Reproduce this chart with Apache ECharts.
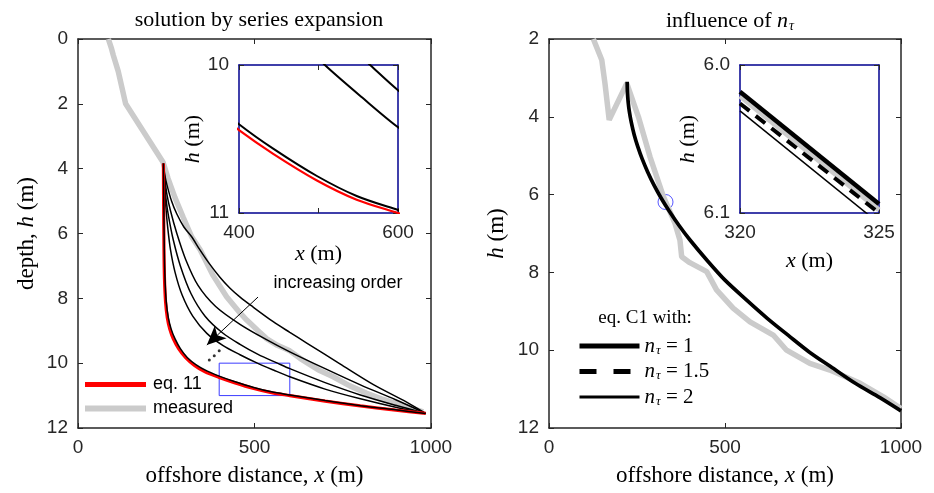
<!DOCTYPE html>
<html>
<head>
  <meta charset="utf-8">
  <title>profile</title>
  <script src="https://cdn.jsdelivr.net/npm/echarts@6/dist/echarts.min.js"></script>
  <style>
    html, body { margin: 0; padding: 0; background: #fff; }
    #main { width: 934px; height: 493px; }
  </style>
</head>
<body>
<div id="main"></div>
<script>
// 左图：级数展开解
var measL_x = [86, 95, 100, 114, 135, 241, 255, 275, 298, 322, 346, 383, 421, 459, 478, 510, 535, 565, 600, 629, 680, 723, 770, 818, 865, 912, 978];
var measL_h = [0, 0.3, 0.5, 1.0, 2.0, 3.8, 4.3, 4.9, 5.5, 6.1, 6.5, 7.3, 7.95, 8.45, 8.67, 9.0, 9.25, 9.45, 9.62, 9.85, 10.2, 10.42, 10.7, 10.93, 11.12, 11.29, 11.5];

var ord1_x = [242, 246, 252, 265, 280, 300, 322, 345, 370, 402, 430, 460, 490, 553, 600, 648, 742, 837, 931, 985];
var ord1_h = [3.84, 4.2, 4.5, 5.0, 5.4, 5.8, 6.1, 6.5, 6.9, 7.35, 7.68, 7.97, 8.22, 8.72, 9.05, 9.38, 10.02, 10.66, 11.2, 11.55];
var ord2_x = [242, 246, 252, 262, 280, 305, 340, 390, 459, 530, 600, 700, 800, 900, 985];
var ord2_h = [3.84, 4.3, 4.8, 5.3, 6.0, 6.8, 7.6, 8.25, 8.8, 9.25, 9.65, 10.17, 10.67, 11.13, 11.55];
var ord3_x = [242, 245, 250, 257, 270, 290, 320, 360, 410, 459, 510, 565, 600, 700, 800, 900, 985];
var ord3_h = [3.84, 4.4, 5.0, 5.5, 6.2, 7.0, 7.85, 8.55, 9.07, 9.42, 9.73, 10.0, 10.17, 10.6, 10.98, 11.3, 11.55];
var ord4_x = [242, 245, 249, 254, 262, 275, 295, 325, 365, 410, 459, 508, 555, 600, 700, 800, 900, 985];
var ord4_h = [3.84, 4.5, 5.2, 5.8, 6.5, 7.2, 7.9, 8.55, 9.08, 9.45, 9.74, 10.0, 10.22, 10.42, 10.8, 11.1, 11.36, 11.55];
var ordN_x = [242, 243, 244.5, 246.5, 250, 256, 264, 275, 290, 310, 335, 365, 400, 443, 498, 548, 600, 700, 800, 900, 985];
var ordN_h = [3.84, 5.0, 6.5, 7.4, 8.1, 8.6, 8.95, 9.25, 9.55, 9.83, 10.05, 10.24, 10.40, 10.565, 10.75, 10.885, 10.98, 11.155, 11.31, 11.44, 11.55];
var eq11_x = [242, 242.5, 243.5, 245, 248, 253, 260, 270, 285, 305, 330, 360, 400, 443, 498, 548, 600, 700, 800, 900, 985];
var eq11_h = [3.84, 5.0, 6.5, 7.4, 8.1, 8.6, 8.95, 9.25, 9.55, 9.83, 10.07, 10.27, 10.44, 10.6, 10.78, 10.91, 11.0, 11.17, 11.32, 11.45, 11.55];

// 箭头和省略号（数据坐标）
var arrowFrom = [510, 7.96], arrowTo = [365, 9.44];
var dots_x = [372, 386, 400];
var dots_h = [9.9, 9.77, 9.62];
var zoomBoxL = [[400, 10], [600, 11]];

// 右图：n_tau 的影响
var measR_x = [126, 150, 159, 171, 221, 254, 287, 325, 358, 372, 377, 400, 448, 476, 523, 571, 637, 675, 741, 798, 884, 950, 1000];
var measR_h = [2.0, 2.54, 3.14, 4.08, 3.14, 4.0, 5.03, 6.05, 6.74, 7.17, 7.6, 7.75, 7.98, 8.45, 8.92, 9.27, 9.61, 10.0, 10.34, 10.51, 10.85, 11.2, 11.5];
var c1_x = [222, 223, 225, 228, 234, 242, 252, 265, 280, 298, 318, 340, 370, 400, 450, 500, 560, 620, 680, 740, 800, 870, 940, 1000];
var c1_h = [3.1, 3.4, 3.63, 3.85, 4.15, 4.46, 4.76, 5.09, 5.41, 5.75, 6.08, 6.4, 6.8, 7.16, 7.7, 8.2, 8.7, 9.18, 9.62, 10.05, 10.42, 10.85, 11.22, 11.56];
var circleR = [331, 6.19];

// 右侧插图
var insR_x = [320, 325];
var insN1_h = [6.018, 6.094];
var insN15_h = [6.026, 6.100];
var insN2_h = [6.031, 6.107];
var insMeas_h = [6.021, 6.098];
var nValues = ['1', '1.5', '2'];

var ink = '#262626';
var SANS = 'Liberation Sans, Arial, sans-serif';
var SERIF = 'Liberation Serif, Times New Roman, serif';
var grayC = '#cbcbcb';
var navy = '#00008f';

function pts(xs, hs) {
  return xs.map(function (x, i) { return [x, hs[i]]; });
}

function plain(v) { return String(v); }

function nameStyle(size) {
  return {
    fontFamily: SERIF, fontSize: size, color: '#000',
    rich: { i: { fontFamily: SERIF, fontSize: size, fontStyle: 'italic', color: '#000' } }
  };
}

// 每个坐标系：底部+顶部 x 轴，左+右 y 轴
function xPair(gi, min, max, step, lineColor, fmt, name, gap, nsize) {
  var common = {
    gridIndex: gi, type: 'value', min: min, max: max, interval: step,
    splitLine: { show: false },
    axisLine: { show: true, onZero: false, lineStyle: { color: lineColor, width: 1.5 } },
    axisTick: { show: true, inside: true, length: 5, lineStyle: { color: ink, width: 1 } }
  };
  var b = Object.assign({}, common, {
    position: 'bottom',
    axisLabel: { show: true, margin: 10, color: ink, fontFamily: SANS, fontSize: 19, formatter: fmt || plain },
    name: name, nameLocation: 'middle', nameGap: gap, nameTextStyle: nameStyle(nsize)
  });
  var t = Object.assign({}, common, { position: 'top', axisLabel: { show: false } });
  return [b, t];
}

function yPair(gi, min, max, step, lineColor, fmt, name, gap, nsize) {
  var common = {
    gridIndex: gi, type: 'value', min: min, max: max, interval: step, inverse: true,
    splitLine: { show: false },
    axisLine: { show: true, onZero: false, lineStyle: { color: lineColor, width: 1.5 } },
    axisTick: { show: true, inside: true, length: 5, lineStyle: { color: ink, width: 1 } }
  };
  var l = Object.assign({}, common, {
    position: 'left',
    axisLabel: { show: true, margin: 10, color: ink, fontFamily: SANS, fontSize: 19, formatter: fmt || plain },
    name: name, nameLocation: 'middle', nameGap: gap, nameTextStyle: nameStyle(nsize)
  });
  var r = Object.assign({}, common, { position: 'right', axisLabel: { show: false } });
  return [l, r];
}

function line(name, xi, data, color, width, extra) {
  return Object.assign({
    name: name, type: 'line', xAxisIndex: xi, yAxisIndex: xi, data: data,
    symbol: 'none', silent: true, animation: false,
    lineStyle: { color: color, width: width }, itemStyle: { color: color }
  }, extra || {});
}

var xs = [].concat(
  xPair(0, 0, 1000, 500, ink, null, 'offshore distance, {i|x} (m)', 36, 23),
  xPair(1, 400, 600, 100, navy, function (v) { return v === 500 ? '' : String(v); }, '{i|x} (m)', 9, 22),
  xPair(2, 0, 1000, 500, ink, null, 'offshore distance, {i|x} (m)', 36, 23),
  xPair(3, 320, 325, 5, navy, null, '{i|x} (m)', 37, 22)
);
var ys = [].concat(
  yPair(0, 0, 12, 2, ink, null, 'depth, {i|h} (m)', 40, 23),
  yPair(1, 10, 11, 1, navy, null, '{i|h} (m)', 7, 22),
  yPair(2, 2, 12, 2, ink, null, '{i|h} (m)', 41, 23),
  yPair(3, 6.0, 6.1, 0.1, navy, function (v) { return v.toFixed(1); }, '{i|h} (m)', 18, 22)
);

var blackW = 1.5;
var series = [
  // 左主图 (axis index 0)
  line('measured', 0, pts(measL_x, measL_h), grayC, 5.5),
  line('o1', 0, pts(ord1_x, ord1_h), '#000', blackW, {
    smooth: 0.3,
    markLine: {
      silent: true, symbol: ['none', 'arrow'], symbolSize: [13, 19],
      label: { show: false },
      lineStyle: { color: '#000', width: 1, type: 'solid' },
      data: [[{ coord: arrowFrom }, { coord: arrowTo }]]
    },
    markArea: {
      silent: true,
      itemStyle: { color: 'rgba(0,0,0,0)', borderColor: '#3c3cff', borderWidth: 1 },
      data: [[{ coord: zoomBoxL[0] }, { coord: zoomBoxL[1] }]]
    }
  }),
  line('o2', 0, pts(ord2_x, ord2_h), '#000', blackW, { smooth: 0.3 }),
  line('o3', 0, pts(ord3_x, ord3_h), '#000', blackW, { smooth: 0.3 }),
  line('o4', 0, pts(ord4_x, ord4_h), '#000', blackW, { smooth: 0.3 }),
  line('eq. 11', 0, pts(eq11_x, eq11_h), '#ff0000', 3.2, { smooth: 0.3 }),
  line('oN', 0, pts(ordN_x, ordN_h), '#000', blackW, { smooth: 0.3 }),
  {
    type: 'scatter', xAxisIndex: 0, yAxisIndex: 0, data: pts(dots_x, dots_h),
    symbolSize: 3, itemStyle: { color: '#000' }, silent: true, animation: false
  },
  // 左插图 (axis index 2)
  line('o1', 2, pts(ord1_x, ord1_h), '#000', 2, { smooth: 0.3 }),
  line('o2', 2, pts(ord2_x, ord2_h), '#000', 2, { smooth: 0.3 }),
  line('o3', 2, pts(ord3_x, ord3_h), '#000', 2, { smooth: 0.3 }),
  line('o4', 2, pts(ord4_x, ord4_h), '#000', 2, { smooth: 0.3 }),
  line('eq. 11', 2, pts(eq11_x, eq11_h), '#ff0000', 2.2, { smooth: 0.3 }),
  line('oN', 2, pts(ordN_x, ordN_h), '#000', 2, { smooth: 0.3 }),
  // 右主图 (axis index 4)
  line('measured', 4, pts(measR_x, measR_h), grayC, 5.5),
  line('n1', 4, pts(c1_x, c1_h), '#000', 3.7, { smooth: 0.3 }),
  {
    type: 'scatter', xAxisIndex: 4, yAxisIndex: 4, data: [circleR],
    symbol: 'circle', symbolSize: 15, silent: true, animation: false,
    itemStyle: { color: 'rgba(0,0,0,0)', borderColor: '#2d2dff', borderWidth: 1 }
  },
  // 右插图 (axis index 6)
  line('measured', 6, pts(insR_x, insMeas_h), grayC, 5),
  line('n1', 6, pts(insR_x, insN1_h), '#000', 4.5),
  line('n1.5', 6, pts(insR_x, insN15_h), '#000', 4, { lineStyle: { color: '#000', width: 4, type: [12, 8] } }),
  line('n2', 6, pts(insR_x, insN2_h), '#000', 1.5)
];

var chart = echarts.init(document.getElementById('main'), null, { renderer: 'canvas' });
chart.setOption({
  animation: false,
  backgroundColor: '#fff',
  title: [
    {
      text: 'solution by series expansion', left: 254, top: 4, textAlign: 'center',
      textStyle: { fontFamily: SERIF, fontWeight: 'normal', fontSize: 22, color: '#000' }
    },
    {
      text: 'influence of {i|n}{s|τ}', left: 725, top: 4, textAlign: 'center',
      textStyle: {
        fontFamily: SERIF, fontWeight: 'normal', fontSize: 22, color: '#000',
        rich: {
          i: { fontFamily: SERIF, fontStyle: 'italic', fontSize: 22, color: '#000' },
          s: { fontFamily: SERIF, fontStyle: 'italic', fontSize: 14, color: '#000', padding: [10, 0, 0, 1] }
        }
      }
    }
  ],
  grid: [
    { left: 78, top: 39, width: 353, height: 389, outerBoundsMode: 'none' },
    { left: 239, top: 65, width: 159, height: 148, outerBoundsMode: 'none' },
    { left: 549, top: 39, width: 352, height: 389, outerBoundsMode: 'none' },
    { left: 740, top: 65, width: 139, height: 148, outerBoundsMode: 'none' }
  ],
  xAxis: xs,
  yAxis: ys,
  legend: [
    {
      orient: 'vertical', left: 82, top: 375, padding: 0,
      itemWidth: 61, itemHeight: 14, itemGap: 5, selectedMode: false,
      itemStyle: { opacity: 0 },
      textStyle: { fontFamily: SANS, fontSize: 18, lineHeight: 19, color: '#000', padding: [0, 0, 0, 2] },
      data: [
        { name: 'eq. 11', lineStyle: { width: 5 } },
        { name: 'measured', lineStyle: { width: 6 } }
      ]
    },
    {
      orient: 'vertical', left: 577, top: 335, padding: 0,
      itemWidth: 60, itemHeight: 14, itemGap: 3.5, selectedMode: false,
      itemStyle: { opacity: 0 },
      formatter: function (name) {
        var k = { 'n1': 0, 'n1.5': 1, 'n2': 2 }[name];
        return '{i|n}{s|τ}{t| = ' + nValues[k] + '}';
      },
      textStyle: {
        fontFamily: SERIF, fontSize: 21, lineHeight: 20, color: '#000',
        rich: {
          i: { fontFamily: SERIF, fontStyle: 'italic', fontSize: 21, lineHeight: 20, color: '#000' },
          s: { fontFamily: SERIF, fontStyle: 'italic', fontSize: 13, lineHeight: 13, color: '#000', padding: [9, 0, 0, 1] },
          t: { fontFamily: SERIF, fontSize: 21, lineHeight: 20, color: '#000' }
        }
      },
      data: [
        { name: 'n1', lineStyle: { width: 5 } },
        { name: 'n1.5', lineStyle: { width: 5, type: [17, 17] } },
        { name: 'n2', lineStyle: { width: 3 } }
      ]
    }
  ],
  graphic: [
    {
      type: 'text', x: 338, y: 283, silent: true,
      style: { text: 'increasing order', font: '18px Liberation Sans', fill: '#000', align: 'center', verticalAlign: 'middle' }
    },
    {
      type: 'text', x: 645, y: 318, silent: true,
      style: { text: 'eq. C1 with:', font: '19px Liberation Serif', fill: '#000', align: 'center', verticalAlign: 'middle' }
    }
  ],
  series: series
});
</script>
</body>
</html>
